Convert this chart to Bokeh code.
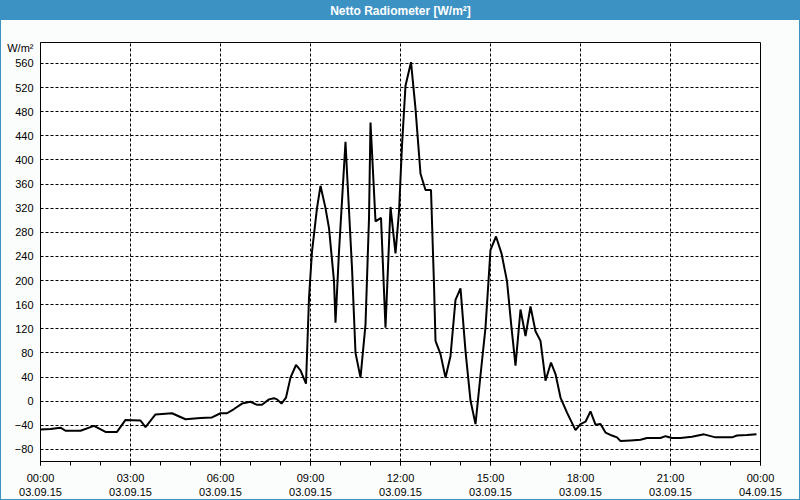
from bokeh.plotting import figure
from bokeh.models import FixedTicker, Range1d, Title, ColumnDataSource
from bokeh.embed import file_html
from bokeh.resources import INLINE

title_text = "Netto Radiometer [W/m²]"
unit_text = "W/m²"

times = ["00:00","00:20","00:40","00:50","01:20","01:47","02:10","02:33","02:50","03:20",
         "03:30","03:50","04:23","04:50","05:20","05:43","06:00","06:13","06:27","06:43",
         "07:00","07:13","07:23","07:37","07:47","07:53","08:02","08:11","08:20","08:31",
         "08:40","08:51","08:57","09:03","09:13","09:20","09:30","09:37","09:47","09:50",
         "09:57","10:10","10:13","10:23","10:30","10:40","10:50","10:57","11:00","11:03",
         "11:10","11:21","11:30","11:40","11:50","11:57","12:03","12:10","12:21","12:30",
         "12:40","12:50","13:01","13:07","13:10","13:20","13:30","13:40","13:50","14:00",
         "14:10","14:20","14:30","14:40","14:50","15:00","15:11","15:22","15:33","15:42",
         "15:50","16:00","16:10","16:20","16:30","16:40","16:50","17:01","17:10","17:20",
         "17:33","17:50","18:00","18:10","18:20","18:30","18:40","18:50","19:03","19:13",
         "19:20","19:40","20:00","20:13","20:40","20:50","21:03","21:20","21:43","22:07",
         "22:30","23:03","23:13","23:33","23:52"]

values = [-47,-46,-44,-49,-49,-41,-51,-51,-31,-32,
          -43,-22,-20,-30,-28,-27,-20,-20,-13,-4,
          -1,-6,-6,3,5,3,-4,6,39,60,
          51,29,171,248,320,357,320,287,199,130,
          248,430,380,221,80,39,127,303,462,413,
          298,304,122,322,245,314,424,523,562,485,
          377,350,350,193,100,78,39,75,168,187,
          83,1,-38,43,122,251,273,245,199,122,
          59,152,108,157,116,100,34,64,45,6,
          -19,-48,-38,-34,-17,-39,-38,-52,-57,-60,
          -66,-65,-64,-61,-61,-58,-61,-61,-59,-55,
          -60,-60,-57,-56,-55]

x_tick_hours = [0, 3, 6, 9, 12, 15, 18, 21, 24]
x_tick_labels = ["00:00\n03.09.15", "03:00\n03.09.15", "06:00\n03.09.15", "09:00\n03.09.15",
                 "12:00\n03.09.15", "15:00\n03.09.15", "18:00\n03.09.15", "21:00\n03.09.15",
                 "00:00\n04.09.15"]
y_ticks = [-80, -40, 0, 40, 80, 120, 160, 200, 240, 280, 320, 360, 400, 440, 480, 520, 560]
unit_pos = 584.7

hours = [int(t[:2]) + int(t[3:]) / 60 for t in times]
src = ColumnDataSource(data=dict(x=hours, y=values))

FONT = "Liberation Sans"
BLUE = "#3d92c4"

p = figure(width=800, height=500, output_backend="svg", toolbar_location=None,
           x_range=Range1d(0, 24), y_range=Range1d(-100, 594.6),
           min_border_left=40, min_border_right=40, min_border_top=40, min_border_bottom=39)
p.background_fill_color = "white"
p.border_fill_color = None
p.styles = {"background": f"linear-gradient(to bottom, {BLUE} 0px, {BLUE} 20px, #fbfdfd 20px, #fbfdfd 100%)",
            "box-shadow": f"inset 0 0 0 1px {BLUE}"}
p.outline_line_color = "black"
p.outline_line_width = 1

t = Title(text=title_text, align="center", vertical_align="top", text_color="white",
          text_font=FONT, text_font_size="12px", text_font_style="bold",
          padding={"left": 0, "right": 0, "top": 0, "bottom": 20}, standoff=6)
p.add_layout(t, "above")

p.line("x", "y", source=src, line_color="black", line_width=2)

p.xaxis.ticker = FixedTicker(ticks=x_tick_hours, minor_ticks=list(range(25)))
p.xaxis.major_label_overrides = {h: l for h, l in zip(x_tick_hours, x_tick_labels)}
p.yaxis.ticker = FixedTicker(ticks=y_ticks + [unit_pos], minor_ticks=[])
p.yaxis.major_label_overrides = {unit_pos: unit_text}
for ax in (p.xaxis[0], p.yaxis[0]):
    ax.major_label_text_font = FONT
    ax.major_label_text_font_size = "11px"
    ax.major_label_text_color = "black"
    ax.axis_line_color = "black"
    ax.major_tick_line_color = "black"
    ax.minor_tick_line_color = "black"
p.xaxis.major_tick_in = 0
p.xaxis.major_tick_out = 4
p.xaxis.minor_tick_in = 0
p.xaxis.minor_tick_out = 4
p.xaxis.major_label_standoff = 6
p.yaxis.major_tick_in = 0
p.yaxis.major_tick_out = 0
p.yaxis.major_label_standoff = 7

p.xgrid.ticker = FixedTicker(ticks=x_tick_hours)
p.ygrid.ticker = FixedTicker(ticks=y_ticks)
for g in (p.xgrid[0], p.ygrid[0]):
    g.grid_line_color = "black"
    g.grid_line_dash = "3 2"
    g.grid_line_width = 1

open("out.html", "w").write(file_html(p, INLINE))
